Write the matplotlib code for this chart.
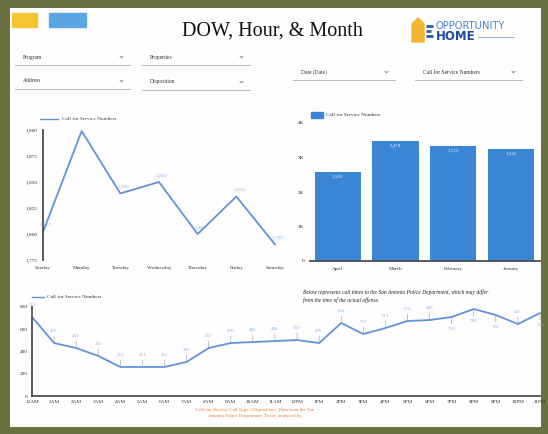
import matplotlib
matplotlib.use("Agg")
import matplotlib.pyplot as plt
from matplotlib.patches import Rectangle, Polygon

# ---- data ----
days = ['Sunday', 'Monday', 'Tuesday', 'Wednesday', 'Thursday', 'Friday', 'Saturday']
dow_calls = [1802, 1899, 1839, 1850, 1800, 1836, 1790]

months = ['April', 'March', 'February', 'January']
month_calls = [2580, 3478, 3333, 3246]

hours = ['12AM', '1AM', '2AM', '3AM', '4AM', '5AM', '6AM', '7AM', '8AM', '9AM',
         '10AM', '11AM', '12PM', '1PM', '2PM', '3PM', '4PM', '5PM', '6PM', '7PM',
         '8PM', '9PM', '10PM', '11PM']
hour_calls = [710, 476, 431, 360, 261, 261, 261, 306, 431, 476, 485, 494,
              503, 476, 656, 557, 611, 674, 683, 710, 782, 728, 647, 746]
# label above (1) or below (-1) the point
hour_lbl_side = [1, 1, 1, 1, 1, 1, 1, 1, 1, 1, 1, 1,
                 1, 1, 1, 1, 1, 1, 1, -1, -1, -1, 1, -1]

W, H = 548, 434
BORDER = '#6b7042'
LINE = '#6194d8'
BAR = '#3b86d4'
LBL = '#8fb4e6'
AXC = '#4d4d4d'
plt.rcParams['font.family'] = ['Liberation Serif', 'DejaVu Serif']


def box(x0, y0, x1, y1):
    return [x0 / W, 1 - y1 / H, (x1 - x0) / W, (y1 - y0) / H]


def ftext(x, y, s, **kw):
    fig.text(x / W, 1 - y / H, s, **kw)


fig = plt.figure(figsize=(W / 100, H / 100), dpi=100)
fig.patch.set_facecolor(BORDER)

bg = fig.add_axes(box(10, 8, 541, 427))
bg.set_facecolor('#fdfdfd')
bg.set_xticks([])
bg.set_yticks([])
for s in bg.spines.values():
    s.set_visible(False)

# overlay in pixel coordinates for header bits
ov = fig.add_axes([0, 0, 1, 1])
ov.set_xlim(0, W)
ov.set_ylim(H, 0)
ov.axis('off')
ov.patch.set_alpha(0)

ov.add_patch(Rectangle((12, 13), 25, 14, color='#f5c431'))
ov.add_patch(Rectangle((49, 13), 37, 14, color='#5aa6e0'))

ftext(272, 31, 'DOW, Hour, & Month', ha='center', va='center', fontsize=14.5, color='#111111')

# logo
ov.add_patch(Polygon([(412, 24), (418, 18), (424, 24), (424, 42), (412, 42)], color='#f2b632'))
for yy, x1 in [(26, 433), (31, 431), (36, 433)]:
    ov.plot([426, x1], [yy, yy], color='#2d5aa6', lw=2.0, solid_capstyle='butt')
ftext(436, 26, 'OPPORTUNITY', ha='left', va='center', fontsize=7.2, color='#4a86d0',
      family='DejaVu Sans')
ftext(436, 37, 'HOME', ha='left', va='center', fontsize=8.5, color='#234a9a',
      family='DejaVu Sans', fontweight='bold')
ov.plot([478, 514], [37, 37], color='#8aa8d8', lw=0.6)

# slicers
slicers = [('Program', 15, 130, 57), ('Properties', 142, 250, 57),
           ('Address', 15, 130, 81), ('Disposition', 142, 250, 82),
           ('Date (Date)', 293, 395, 72), ('Call for Service Numbers', 415, 522, 72)]
for name, x0, x1, y in slicers:
    ftext(x0 + 8, y, name, ha='left', va='center', fontsize=4, color='#333333')
    ov.plot([x1 - 10, x1 - 8.5, x1 - 7], [y - 0.8, y + 0.8, y - 0.8], color='#666666', lw=0.5)
    ov.plot([x0, x1], [y + 8, y + 8], color='#bbbbbb', lw=0.7)

# ---- DOW line chart ----
ax1 = fig.add_axes(box(43, 130, 275, 260))
x = list(range(len(days)))
ax1.plot(x, dow_calls, color=LINE, lw=1.3, clip_on=False)
ax1.set_xlim(0, 6)
ax1.set_ylim(1775, 1900)
yt = [1775, 1800, 1825, 1850, 1875, 1900]
ax1.set_yticks(yt)
ax1.set_yticklabels(['{:,}'.format(v) for v in yt])
ax1.set_xticks(x)
ax1.set_xticklabels(days)
ax1.tick_params(length=0, labelsize=3.8, colors='#333333', pad=4)
for s in ['top', 'right', 'bottom']:
    ax1.spines[s].set_visible(False)
ax1.spines['left'].set_color(AXC)
ax1.spines['left'].set_linewidth(1.3)
ax1.patch.set_alpha(0)
for i, v in enumerate(dow_calls):
    if i == 1:
        continue
    ax1.annotate('{:,}'.format(v), (i, v), xytext=(2, 4), textcoords='offset points',
                 fontsize=3.8, color=LBL, ha='center')
ov.plot([40, 58], [119, 119], color=LINE, lw=1)
ftext(62, 119, 'Call for Service Numbers', ha='left', va='center', fontsize=3.8, color='#444444')

# ---- month bar chart ----
ax2 = fig.add_axes(box(310, 123, 540, 261))
bx = list(range(len(months)))
ax2.bar(bx, month_calls, width=0.8, color=BAR)
ax2.set_xlim(-0.48, 3.5)
ax2.set_ylim(0, 4000)
ax2.set_yticks([0, 1000, 2000, 3000, 4000])
ax2.set_yticklabels(['0', '1K', '2K', '3K', '4K'])
ax2.set_xticks(bx)
ax2.set_xticklabels(months)
ax2.tick_params(length=0, labelsize=3.8, colors='#333333', pad=4)
for s in ['top', 'right', 'left']:
    ax2.spines[s].set_visible(False)
ax2.spines['bottom'].set_color(AXC)
ax2.spines['bottom'].set_linewidth(1.3)
ax2.patch.set_alpha(0)
for i, v in enumerate(month_calls):
    ax2.text(i, v - 80, '{:,}'.format(v), ha='center', va='top', fontsize=3.6, color='#dbe8f8')
ov.add_patch(Rectangle((311, 112), 12, 6, color=BAR))
ftext(326, 115, 'Call for Service Numbers', ha='left', va='center', fontsize=3.8, color='#333333')

# ---- hour line chart ----
ax3 = fig.add_axes(box(32, 307, 540, 396))
hx = list(range(len(hours)))
ax3.plot(hx, hour_calls, color=LINE, lw=1.3, clip_on=False)
ax3.set_xlim(0, 23)
ax3.set_ylim(0, 800)
ax3.set_yticks([0, 200, 400, 600, 800])
ax3.set_xticks(hx)
ax3.set_xticklabels(hours)
ax3.tick_params(length=0, labelsize=3.8, colors='#333333', pad=3)
for s in ['top', 'right']:
    ax3.spines[s].set_visible(False)
for s in ['left', 'bottom']:
    ax3.spines[s].set_color(AXC)
    ax3.spines[s].set_linewidth(1.3)
ax3.patch.set_alpha(0)
for i, v in enumerate(hour_calls):
    side = hour_lbl_side[i]
    ax3.annotate(str(v), (i, v), xytext=(0, 7 * side), textcoords='offset points',
                 fontsize=3.6, color=LBL, ha='center',
                 va='bottom' if side > 0 else 'top',
                 arrowprops=dict(arrowstyle='-', color='#999999', lw=0.4,
                                 shrinkA=0, shrinkB=0))
ov.plot([32, 44], [297, 297], color=LINE, lw=1)
ftext(47, 297, 'Call for Service Numbers', ha='left', va='center', fontsize=3.8, color='#333333')

ftext(303, 292, 'Below represents call times to the San Antonio Police Department, which may differ',
      ha='left', va='center', fontsize=4, style='italic', color='#222222')
ftext(303, 300, 'from the time of the actual offense.',
      ha='left', va='center', fontsize=4, style='italic', color='#222222')

ftext(255, 410, 'Calls for Service Call Type / Disposition / Data from the San',
      ha='center', va='center', fontsize=3.5, color='#f07a3a')
ftext(255, 416, 'Antonio Police Department, Texas, analyzed by',
      ha='center', va='center', fontsize=3.5, color='#f07a3a')

fig.savefig('out.png', dpi=100, facecolor=fig.get_facecolor())
